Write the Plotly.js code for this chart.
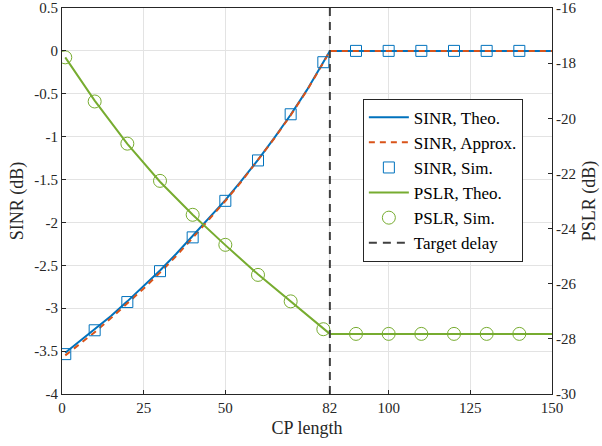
<!DOCTYPE html>
<html>
<head>
<meta charset="utf-8">
<script src="https://cdn.plot.ly/plotly-3.0.1.min.js"></script>
<style>html,body{margin:0;padding:0;background:#fff;}#chart{width:602px;height:446px;}</style>
</head>
<body>
<div id="chart"></div>
<script>
// SINR theoretical curve (left axis, dB)
const sinrTheoX = [1, 5, 10, 15, 20, 25, 30, 35, 40, 45, 50, 55, 60, 65, 70, 75, 80, 82, 150];
const sinrTheoY = [-3.52, -3.40, -3.25, -3.09, -2.92, -2.745, -2.56, -2.365, -2.16, -1.955, -1.74, -1.51, -1.27, -1.015, -0.745, -0.455, -0.135, 0, 0];
// SINR approximation
const sinrApproxX = [1, 5, 10, 15, 20, 25, 30, 35, 40, 45, 50, 55, 60, 65, 70, 75, 80, 82, 150];
const sinrApproxY = [-3.55, -3.43, -3.28, -3.115, -2.945, -2.77, -2.585, -2.39, -2.18, -1.97, -1.75, -1.52, -1.275, -1.02, -0.75, -0.46, -0.138, 0, 0];
// SINR simulation
const simX = [1, 10, 20, 30, 40, 50, 60, 70, 80, 90, 100, 110, 120, 130, 140];
const sinrSimY = [-3.535, -3.257, -2.928, -2.568, -2.174, -1.748, -1.277, -0.739, -0.132, 0, 0, 0, 0, 0, 0];
// PSLR theoretical (right axis, dB)
const pslrTheoX = [1, 10, 20, 30, 40, 50, 60, 70, 80, 82, 150];
const pslrTheoY = [-17.79, -19.36, -20.93, -22.30, -23.50, -24.60, -25.66, -26.65, -27.62, -27.82, -27.82];
// PSLR simulation
const pslrSimY = [-17.79, -19.39, -20.92, -22.27, -23.50, -24.59, -25.68, -26.64, -27.65, -27.82, -27.82, -27.82, -27.82, -27.82, -27.82];
// Target delay
const targetDelay = 82;
// Tick labels
const xTicks = [0, 25, 50, 82, 100, 125, 150];
const yLeftTicks = [-4, -3.5, -3, -2.5, -2, -1.5, -1, -0.5, 0, 0.5];
const yLeftText = ['-4', '-3.5', '-3', '-2.5', '-2', '-1.5', '-1', '-0.5', '0', '0.5'];
const yRightTicks = [-30, -28, -26, -24, -22, -20, -18, -16];
const yRightText = ['-30', '-28', '-26', '-24', '-22', '-20', '-18', '-16'];

const font = "'Times New Roman', 'Liberation Serif', Times, serif";

const traces = [
  {x: sinrTheoX, y: sinrTheoY, mode: 'lines', name: 'SINR, Theo.',
   line: {color: '#0072BD', width: 2}},
  {x: sinrApproxX, y: sinrApproxY, mode: 'lines', name: 'SINR, Approx.',
   line: {color: '#D95319', width: 2, dash: '6px,5px'}},
  {x: simX, y: sinrSimY, mode: 'markers', name: 'SINR, Sim.',
   marker: {symbol: 'square-open', size: 11, color: '#0072BD', line: {width: 1, color: '#0072BD'}}},
  {x: pslrTheoX, y: pslrTheoY, mode: 'lines', name: 'PSLR, Theo.', yaxis: 'y2',
   line: {color: '#77AC30', width: 2}},
  {x: simX, y: pslrSimY, mode: 'markers', name: 'PSLR, Sim.', yaxis: 'y2',
   marker: {symbol: 'circle-open', size: 13, color: '#77AC30', line: {width: 1, color: '#77AC30'}}},
  {x: [targetDelay, targetDelay], y: [-30, -16], mode: 'lines', name: 'Target delay', yaxis: 'y2',
   line: {color: '#404040', width: 2, dash: '8px,6px'}}
];

const layout = {
  width: 602, height: 446,
  margin: {l: 62, r: 50, t: 8, b: 52},
  paper_bgcolor: '#fff', plot_bgcolor: '#fff',
  font: {family: font, size: 15, color: '#262626'},
  showlegend: true,
  legend: {
    x: 0.614, y: 0.765, xanchor: 'left', yanchor: 'top',
    bgcolor: '#fff', bordercolor: '#262626', borderwidth: 1,
    font: {family: font, size: 17, color: '#000'},
    tracegroupgap: 0, itemwidth: 40
  },
  xaxis: {
    range: [0, 150], tickmode: 'array', tickvals: xTicks, ticktext: xTicks.map(String),
    showgrid: true, gridcolor: '#e3e3e3', zeroline: false,
    showline: true, linecolor: '#262626', linewidth: 1, mirror: true,
    ticks: 'inside', ticklen: 4, tickcolor: '#262626', ticklabeloverflow: 'allow',
    title: {text: 'CP length', font: {family: font, size: 18, color: '#262626'}, standoff: 6},
    tickfont: {family: font, size: 15, color: '#262626'}
  },
  yaxis: {
    range: [-4, 0.5], tickmode: 'array', tickvals: yLeftTicks, ticktext: yLeftText,
    showgrid: true, gridcolor: '#e3e3e3', zeroline: false,
    showline: true, linecolor: '#262626', linewidth: 1,
    ticks: 'inside', ticklen: 4, tickcolor: '#262626', ticklabeloverflow: 'allow',
    title: {text: 'SINR (dB)', font: {family: font, size: 18, color: '#262626'}, standoff: 5},
    tickfont: {family: font, size: 15, color: '#262626'}
  },
  yaxis2: {
    range: [-30, -16], tickmode: 'array', tickvals: yRightTicks, ticktext: yRightText,
    overlaying: 'y', side: 'right', showgrid: false, zeroline: false,
    showline: true, linecolor: '#262626', linewidth: 1,
    ticks: 'inside', ticklen: 4, tickcolor: '#262626', ticklabeloverflow: 'allow',
    title: {text: 'PSLR (dB)', font: {family: font, size: 18, color: '#262626'}, standoff: 6},
    tickfont: {family: font, size: 15, color: '#262626'}
  }
};

Plotly.newPlot('chart', traces, layout, {displayModeBar: false, staticPlot: true});
</script>
</body>
</html>
